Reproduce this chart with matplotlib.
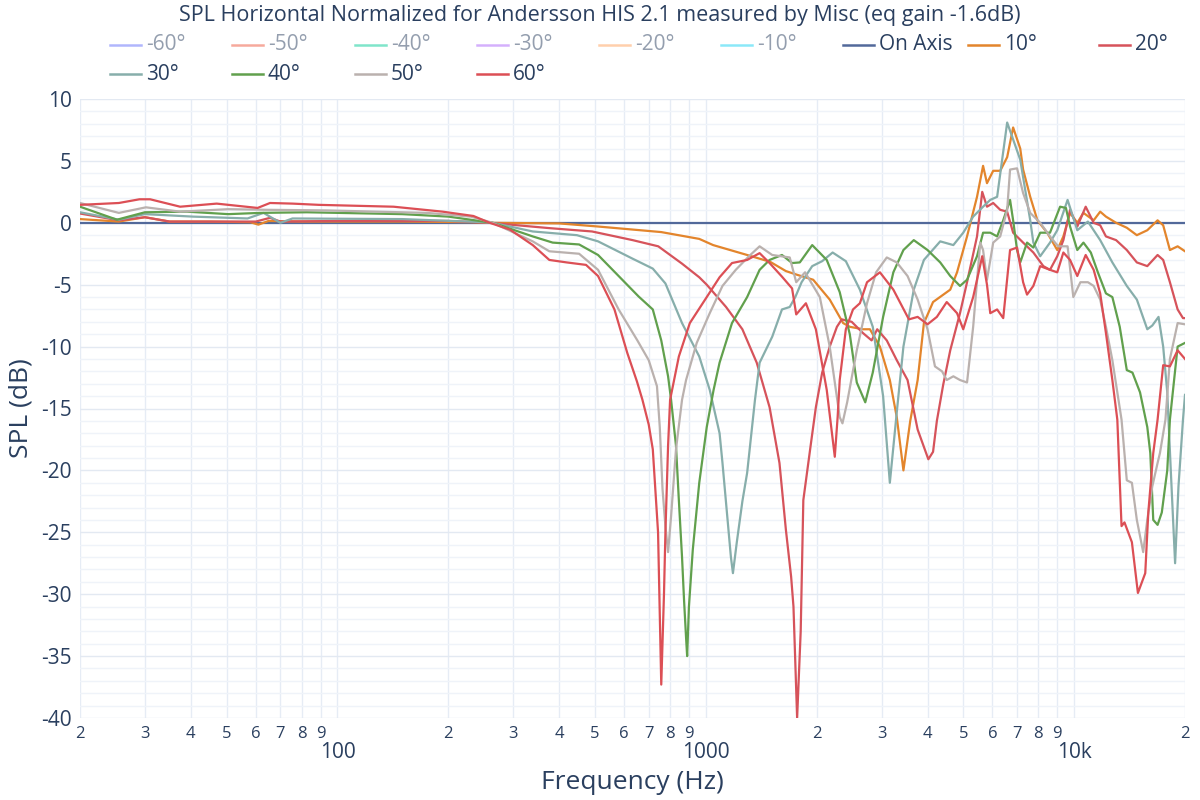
import matplotlib
matplotlib.use('Agg')
import matplotlib.pyplot as plt
from matplotlib.lines import Line2D
from matplotlib.ticker import FixedLocator, FixedFormatter, MultipleLocator

plt.rcParams['font.family'] = ['Open Sans', 'DejaVu Sans']

title = 'SPL Horizontal Normalized for Andersson HIS 2.1 measured by Misc (eq gain -1.6dB)'

# ---- data (frequency in Hz, level in dB) ----
on_f = [20, 20000]
on_db = [0, 0]

d10_f = [20, 25.5, 30, 35, 45, 58, 61, 65, 80, 150, 230, 260, 400, 510, 757, 960, 1047, 1295,
         1495, 1650, 1770, 1957, 2170, 2360, 2460, 2670, 2790, 2970, 3160, 3300, 3440, 3590,
         3760, 3910, 4140, 4610, 4810, 5120, 5450, 5660, 5800, 6030, 6300, 6580, 6830, 7140,
         7270, 7600, 7950, 8450, 9000, 9350, 9750, 10200, 10600, 11300, 11770, 12200, 13000,
         13900, 14800, 15800, 16850, 17450, 18200, 19100, 20000]
d10_db = [0.3, 0.1, 0.45, 0.1, 0.1, 0.05, -0.15, 0.15, 0.1, 0.1, 0.05, 0.0, -0.05, -0.3, -0.75,
          -1.3, -1.8, -2.6, -3.15, -3.9, -4.2, -4.6, -6.2, -8.1, -8.4, -8.6, -8.6, -10.0, -12.7,
          -15.7, -20.0, -16.0, -12.7, -8.1, -6.4, -5.4, -4.0, -1.1, 2.1, 4.6, 3.2, 4.2, 4.2, 5.3,
          7.7, 6.0, 4.3, 2.1, 0.2, -0.8, -2.2, -1.1, 0.8, 0.0, 0.8, 0.2, 0.9, 0.5, 0.0, -0.4,
          -1.0, -0.6, 0.2, -0.2, -2.2, -1.9, -2.3]

d20_f = [20, 25.5, 30, 35, 60, 65.6, 70, 100, 200, 259, 376, 491, 633, 743, 862, 960, 1006, 1135,
         1257, 1375, 1490, 1585, 1650, 1705, 1730, 1770, 1810, 1840, 1930, 1990, 2070, 2170, 2270,
         2340, 2490, 2670, 2820, 2920, 3100, 3300, 3530, 3760, 4020, 4140, 4240, 4410, 4610, 4900,
         5120, 5450, 5630, 5800, 6030, 6300, 6580, 6830, 7270, 7750, 8250, 8600, 9000, 9350, 9750,
         10200, 10750, 11300, 11770, 12200, 13000, 13900, 14800, 15800, 16850, 17450, 18200,
         19100, 19750, 20000]
d20_db = [0.75, 0.2, 0.45, 0.1, 0.1, 0.4, 0.1, 0.15, 0.15, 0.0, -0.43, -0.7, -1.4, -1.9, -3.3,
          -4.4, -5.0, -6.8, -8.6, -11.3, -14.9, -19.4, -24.8, -28.6, -31.0, -40.0, -33.0, -22.4,
          -17.8, -14.9, -12.1, -10.0, -8.4, -7.8, -8.0, -8.9, -9.5, -8.6, -9.5, -11.1, -12.7,
          -16.7, -19.1, -18.5, -16.0, -13.1, -10.3, -7.3, -4.8, -1.1, 2.5, 1.3, 1.6, 1.05, 0.9,
          -0.8, -1.6, -2.4, -3.5, -3.8, -2.7, -1.4, 1.05, -0.3, 1.3, 0.0, -0.2, -1.1, -1.4, -2.2,
          -3.2, -3.5, -2.6, -3.0, -4.8, -7.0, -7.7, -7.7]

d30_f = [20, 25.5, 30, 40.5, 57, 63, 70, 75.5, 150, 250, 264, 339, 447, 510, 633, 718, 777, 862,
         960, 1025, 1090, 1110, 1142, 1170, 1185, 1214, 1257, 1295, 1360, 1400, 1515, 1610, 1690,
         1750, 1820, 1945, 2070, 2210, 2400, 2620, 2840, 3030, 3160, 3300, 3440, 3670, 3910, 4330,
         4700, 5000, 5320, 5660, 5920, 6180, 6580, 7140, 7600, 7750, 8090, 8600, 9000, 9600,
         10200, 10900, 11770, 12700, 13900, 14800, 15800, 16300, 16950, 17450, 17900, 18300,
         18800, 19200, 19750, 20000]
d30_db = [0.85, 0.25, 0.7, 0.5, 0.35, 0.8, 0.0, 0.35, 0.3, 0.05, 0.0, -0.7, -1.0, -1.5, -2.9,
          -3.7, -4.9, -8.1, -10.8, -13.5, -17.0, -19.4, -23.5, -27.0, -28.3, -25.8, -22.5, -20.2,
          -14.3, -11.3, -9.2, -7.0, -6.8, -6.0, -4.8, -3.5, -3.1, -2.4, -3.1, -5.4, -8.4, -14.0,
          -21.0, -15.3, -10.0, -5.4, -3.0, -1.5, -1.8, -0.8, 0.5, 1.3, 1.85, 2.1, 8.1, 5.1, 0.2,
          -1.6, -2.7, -1.6, -0.6, 1.85, -0.6, 0.1, -1.4, -3.2, -5.1, -6.2, -8.6, -8.3, -7.6,
          -10.0, -13.7, -20.0, -27.5, -21.3, -15.9, -13.9]

d40_f = [20, 25.2, 30, 39, 50.5, 61.6, 82.6, 150, 200, 264, 339, 384, 453, 510, 580, 657, 718,
         757, 790, 805, 830, 845, 862, 873, 884, 890, 900, 922, 960, 1006, 1050, 1090, 1178, 1295,
         1400, 1490, 1610, 1715, 1800, 1945, 2130, 2310, 2460, 2570, 2710, 2840, 3030, 3230, 3440,
         3670, 4000, 4330, 4610, 4900, 5120, 5450, 5660, 5920, 6180, 6420, 6700, 6830, 7000, 7140,
         7450, 7750, 8090, 8600, 9160, 9500, 9750, 10200, 10600, 11100, 11600, 12200, 12700,
         13300, 13900, 14400, 15100, 15800, 16100, 16400, 16850, 17300, 17900, 18200, 19100, 20000]
d40_db = [1.3, 0.25, 0.85, 0.9, 0.7, 0.8, 0.85, 0.7, 0.5, 0.0, -1.1, -1.6, -1.75, -2.6, -4.3,
          -5.95, -7.0, -9.5, -12.4, -14.3, -18.0, -22.4, -27.0, -30.5, -33.5, -35.0, -31.0, -26.4,
          -21.0, -16.5, -13.5, -11.3, -8.1, -6.0, -3.8, -3.0, -2.6, -3.25, -3.2, -1.8, -3.0,
          -5.6, -9.0, -12.9, -14.5, -12.1, -7.6, -4.0, -2.2, -1.4, -2.2, -3.2, -4.3, -5.1, -4.6,
          -2.7, -0.8, -0.8, -1.1, 0.2, 1.85, 0.2, -2.2, -3.2, -1.6, -2.0, -0.8, -0.8, 1.3, 1.2,
          -0.3, -2.2, -1.6, -2.4, -4.0, -5.7, -6.0, -8.4, -11.9, -12.1, -13.7, -16.5, -18.6,
          -24.0, -24.4, -23.4, -20.0, -15.9, -10.0, -9.7]

d50_f = [20, 25.5, 30.2, 37.4, 50.5, 64.3, 93.5, 175, 230, 264, 339, 376, 453, 510, 580, 652, 700,
         737, 750, 763, 777, 790, 805, 830, 862, 884, 945, 1025, 1110, 1206, 1310, 1400, 1515,
         1690, 1760, 1860, 2040, 2170, 2310, 2350, 2420, 2570, 2740, 2900, 3100, 3300, 3530, 3760,
         4000, 4190, 4380, 4510, 4700, 4900, 5120, 5320, 5560, 5660, 5800, 6030, 6300, 6580, 6700,
         7000, 7270, 7600, 8090, 8600, 9050, 9600, 9950, 10400, 10900, 11300, 11770, 12200,
         12700, 13450, 13900, 14350, 14800, 15400, 15800, 16300, 16850, 17100, 17700, 18200,
         19100, 20000]
d50_db = [1.6, 0.8, 1.25, 0.9, 1.1, 1.05, 1.0, 0.8, 0.5, 0.0, -1.5, -2.3, -2.5, -3.8, -7.0, -9.5,
          -11.1, -13.2, -16.5, -21.5, -24.5, -26.6, -23.7, -18.3, -14.3, -12.7, -9.7, -7.3, -5.1,
          -3.8, -2.7, -1.9, -2.6, -2.8, -4.8, -4.0, -6.0, -10.0, -15.7, -16.2, -14.5, -10.3,
          -6.5, -4.0, -2.8, -3.2, -4.3, -6.2, -8.6, -11.6, -12.0, -12.7, -12.4, -12.7, -12.9,
          -8.4, -1.6, -2.2, -4.6, -1.6, -1.1, 1.05, 4.3, 4.4, 2.4, 0.8, 0.0, -1.1, -1.9, -1.9,
          -6.0, -4.8, -4.8, -5.1, -6.2, -8.4, -11.1, -15.9, -20.8, -21.0, -24.0, -26.6, -24.0,
          -21.3, -19.4, -18.6, -15.9, -11.0, -8.1, -8.2]

d60_f = [20, 25.5, 29, 31, 37.4, 47, 60.7, 65.6, 75.5, 89, 142, 193, 234, 259, 294, 339, 376, 419,
         473, 510, 565, 612, 650, 673, 700, 718, 742, 757, 770, 777, 790, 800, 845, 905, 1006,
         1090, 1178, 1295, 1400, 1490, 1610, 1715, 1760, 1870, 1990, 2130, 2240, 2280, 2310, 2400,
         2510, 2620, 2740, 2970, 3230, 3560, 3760, 4000, 4240, 4510, 4810, 5000, 5320, 5630, 5800,
         5920, 6180, 6420, 6700, 7000, 7270, 7450, 7750, 8090, 8600, 9000, 9350, 9750, 10200,
         10750, 11300, 11770, 12200, 12700, 13100, 13450, 13700, 14350, 14900, 15600, 15900,
         16400, 16850, 17450, 18200, 19100, 20000]
d60_db = [1.45, 1.6, 1.9, 1.9, 1.3, 1.55, 1.2, 1.6, 1.55, 1.45, 1.3, 0.9, 0.55, 0.0, -0.55, -1.8,
          -3.0, -3.2, -3.4, -4.3, -7.0, -10.5, -12.8, -14.3, -16.3, -18.3, -25.0, -37.3, -30.0,
          -25.0, -18.0, -14.3, -10.8, -8.1, -6.0, -4.4, -3.25, -3.0, -2.45, -3.25, -4.35, -5.3,
          -7.4, -6.5, -8.6, -13.5, -18.9, -15.7, -12.7, -8.6, -7.0, -6.5, -4.8, -4.0, -5.4, -7.8,
          -7.6, -8.2, -7.6, -6.4, -7.3, -8.6, -6.0, -2.7, -5.0, -7.3, -7.0, -7.7, -2.2, -2.0,
          -4.8, -5.8, -5.1, -3.5, -3.8, -4.0, -2.4, -3.0, -4.3, -2.6, -3.8, -5.7, -8.9, -12.7,
          -15.9, -24.5, -24.2, -25.8, -29.9, -28.3, -23.4, -18.6, -15.9, -11.5, -11.6, -10.3,
          -11.0]

hidden_labels = ['-60°', '-50°', '-40°', '-30°', '-20°', '-10°']
hidden_colors = ['#636efa', '#ef553b', '#00cc96', '#ab63fa', '#ffa15a', '#19d3f3']

series = [
    ('On Axis', on_f, on_db, '#52699a'),
    ('10°', d10_f, d10_db, '#e3852c'),
    ('20°', d20_f, d20_db, '#d6535b'),
    ('30°', d30_f, d30_db, '#87aeab'),
    ('40°', d40_f, d40_db, '#61a04d'),
    ('50°', d50_f, d50_db, '#bab1ae'),
    ('60°', d60_f, d60_db, '#dc4f55'),
]

x_major = [100, 1000, 10000]
x_major_labels = ['100', '1000', '10k']
x_minor = [20, 30, 40, 50, 60, 70, 80, 90, 200, 300, 400, 500, 600, 700, 800, 900,
           2000, 3000, 4000, 5000, 6000, 7000, 8000, 9000, 20000]
x_minor_labels = ['2', '3', '4', '5', '6', '7', '8', '9'] * 3 + ['2']

txt = '#2a3f5f'

fig = plt.figure(figsize=(12, 8), dpi=100)
W, H = 1200, 800
ax = fig.add_axes([80 / W, 82 / H, 1105 / W, 619 / H])

for name, f, db, c in series:
    ax.plot(f, db, color=c, lw=1.6, solid_joinstyle='round')

ax.set_xscale('log')
ax.set_xlim(20, 20000)
ax.set_ylim(-40, 10)

ax.xaxis.set_major_locator(FixedLocator(x_major))
ax.xaxis.set_major_formatter(FixedFormatter(x_major_labels))
ax.xaxis.set_minor_locator(FixedLocator(x_minor))
ax.xaxis.set_minor_formatter(FixedFormatter(x_minor_labels))
ax.yaxis.set_minor_locator(MultipleLocator(1))
ax.set_yticks(range(-40, 11, 5))
ax.set_yticklabels([str(v) for v in range(-40, 11, 5)])

ax.tick_params(axis='x', which='major', length=0, pad=17, labelsize=15, labelcolor=txt)
ax.tick_params(axis='x', which='minor', length=0, pad=6, labelsize=12, labelcolor=txt)
ax.tick_params(axis='y', which='both', length=0, pad=6, labelsize=15, labelcolor=txt)

ax.grid(which='both', axis='x', color='#e6ecf5', lw=1)
ax.grid(which='major', axis='y', color='#e3e9f2', lw=1)
ax.grid(which='minor', axis='y', color='#eff3f9', lw=1)
ax.set_axisbelow(True)
for s in ax.spines.values():
    s.set_visible(False)

ax.set_xlabel('Frequency (Hz)', fontsize=19, color=txt, labelpad=5)
ax.set_ylabel('SPL (dB)', fontsize=19, color=txt, labelpad=5)

fig.text(0.5, 1 - 16 / H, title, ha='center', va='center', fontsize=15.5, color=txt)

# legend drawn by hand to follow the reference's row layout
entries = [(l, c, 0.5) for l, c in zip(hidden_labels, hidden_colors)]
entries += [(name, c, 1.0) for name, f, db, c in series]
slot_x = [110, 232, 355, 477, 599, 721, 843, 968, 1099, 110, 232, 355, 477]
slot_y = [45] * 9 + [74] * 4
for (lab, c, a), sx, sy in zip(entries, slot_x, slot_y):
    yy = 1 - sy / H
    fig.add_artist(Line2D([sx / W, (sx + 31) / W], [yy, yy], color=c, lw=1.8, alpha=a,
                          transform=fig.transFigure))
    fig.text((sx + 36) / W, yy, lab, ha='left', va='center', fontsize=15, color=txt, alpha=a)

fig.savefig('out.png', dpi=100, facecolor='white')
